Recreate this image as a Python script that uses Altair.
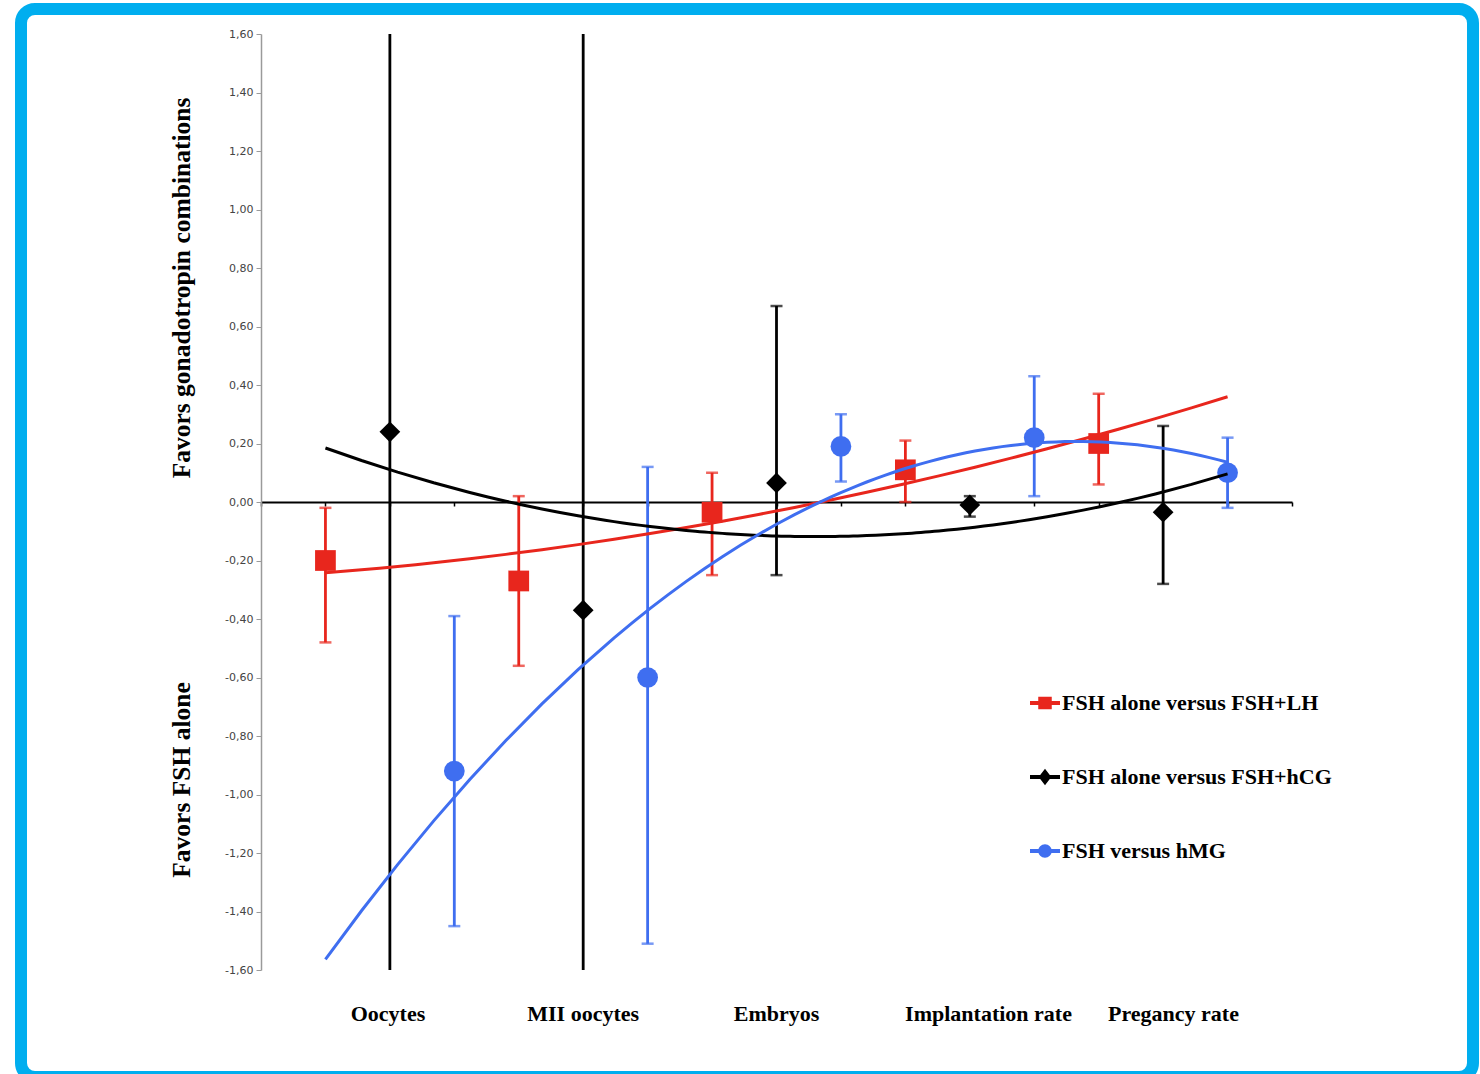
import altair as alt
import pandas as pd

series = ["FSH alone versus FSH+LH", "FSH alone versus FSH+hCG", "FSH versus hMG"]
colors = ["#E8261D", "#000000", "#3F6EF0"]

# x positions (Excel category index) of each series' points
red_x = [1, 4, 7, 10, 13]
black_x = [2, 5, 8, 11, 14]
blue_x = [3, 6, 9, 12, 15]

red_y = [-0.20, -0.27, -0.035, 0.11, 0.20]
red_lo = [-0.48, -0.56, -0.25, 0.00, 0.06]
red_hi = [-0.02, 0.02, 0.10, 0.21, 0.37]

black_y = [0.24, -0.37, 0.065, -0.01, -0.035]
black_lo = [-2.00, -2.00, -0.25, -0.05, -0.28]
black_hi = [2.00, 2.00, 0.67, 0.02, 0.26]

blue_y = [-0.92, -0.60, 0.19, 0.22, 0.10]
blue_lo = [-1.45, -1.51, 0.07, 0.02, -0.02]
blue_hi = [-0.39, 0.12, 0.30, 0.43, 0.22]

categories = ["Oocytes", "MII oocytes", "Embryos", "Implantation rate", "Pregancy rate"]
category_x = [1.97, 5.0, 8.0, 11.29, 14.16]

rows = []
for s, xs_, ys_, los, his in [
    (series[0], red_x, red_y, red_lo, red_hi),
    (series[1], black_x, black_y, black_lo, black_hi),
    (series[2], blue_x, blue_y, blue_lo, blue_hi),
]:
    for x, y, lo, hi in zip(xs_, ys_, los, his):
        rows.append({"series": s, "x": x, "y": y, "lo": lo, "hi": hi})
df = pd.DataFrame(rows)
cat_df = pd.DataFrame({"label": categories, "x": category_x})

W, H = 1031, 936
PL, PT, PR, PB = 261, 34, 188, 104

xs = alt.Scale(domain=[0, 16], nice=False, zero=False)
ys = alt.Scale(domain=[-1.6, 1.6], nice=False)
yticks = [round(-1.6 + 0.2 * i, 2) for i in range(17)]

def cscale():
    return alt.Scale(domain=series, range=colors)

base = alt.Chart(df)

x_axis = alt.Axis(orient="bottom", offset=-H / 2, values=list(range(17)), labels=False,
                  tickSize=4, tickColor="black", domainColor="black", domainWidth=2,
                  tickWidth=1.5, grid=False, title=None)
y_axis = alt.Axis(orient="left", values=yticks, grid=False, title=None,
                  labelExpr="(datum.value < 0 ? '-' : '') + replace(format(abs(datum.value), '.2f'), '.', ',')",
                  labelFont="DejaVu Sans", labelFontSize=11, labelColor="#444444",
                  domainColor="#9a9a9a", domainWidth=1.5, tickColor="#9a9a9a", tickSize=5,
                  labelPadding=3)

bars = base.mark_rule(strokeWidth=2.8, clip=True).encode(
    x=alt.X("x:Q", scale=xs, axis=x_axis),
    y=alt.Y("lo:Q", scale=ys, axis=y_axis),
    y2="hi:Q",
    color=alt.Color("series:N", scale=cscale(), legend=None),
)
caps_lo = base.mark_tick(orient="horizontal", size=12, thickness=2.5, clip=True).encode(
    x=alt.X("x:Q", scale=xs), y=alt.Y("lo:Q", scale=ys),
    color=alt.Color("series:N", scale=cscale(), legend=None),
)
caps_hi = base.mark_tick(orient="horizontal", size=12, thickness=2.5, clip=True).encode(
    x=alt.X("x:Q", scale=xs), y=alt.Y("hi:Q", scale=ys),
    color=alt.Color("series:N", scale=cscale(), legend=None),
)
points = base.mark_point(filled=True, opacity=1).encode(
    x=alt.X("x:Q", scale=xs), y=alt.Y("y:Q", scale=ys),
    color=alt.Color("series:N", scale=cscale(), legend=None),
    shape=alt.Shape("series:N", scale=alt.Scale(domain=series, range=["square", "diamond", "circle"]), legend=None),
    size=alt.Size("series:N", scale=alt.Scale(domain=series, range=[430, 430, 540]), legend=None),
)
trend = base.transform_regression(
    "x", "y", groupby=["series"], method="poly", order=2, extent=[1, 15]
).mark_line(strokeWidth=3).encode(
    x=alt.X("x:Q", scale=xs), y=alt.Y("y:Q", scale=ys),
    color=alt.Color("series:N", scale=cscale(), legend=None),
)

paths = [
    "M-1,-0.14L1,-0.14L1,0.14L-1,0.14Z M-0.45,-0.42L0.45,-0.42L0.45,0.42L-0.45,0.42Z",
    "M-1,-0.14L1,-0.14L1,0.14L-1,0.14Z M0,-0.55L0.42,0L0,0.55L-0.42,0Z",
    "M-1,-0.14L1,-0.14L1,0.14L-1,0.14Z M-0.45,0A0.45,0.45 0 1,1 0.45,0A0.45,0.45 0 1,1 -0.45,0Z",
]
leg = alt.Legend(title=None, orient="none", legendX=769, legendY=654, symbolSize=900,
                 symbolStrokeWidth=0, symbolOpacity=1, labelFont="Liberation Serif",
                 labelFontWeight="bold", labelFontSize=22, labelColor="black", labelOffset=2,
                 rowPadding=48, labelLimit=500, padding=0)
legend_layer = base.transform_filter("false").mark_point(filled=True).encode(
    x=alt.X("x:Q", scale=xs), y=alt.Y("y:Q", scale=ys),
    color=alt.Color("series:N", scale=cscale(), legend=leg),
    shape=alt.Shape("series:N", scale=alt.Scale(domain=series, range=paths), legend=leg),
)

cat_labels = alt.Chart(cat_df).mark_text(
    font="Liberation Serif", fontWeight="bold", fontSize=22, color="black", baseline="middle"
).encode(x=alt.X("x:Q", scale=xs), y=alt.value(980), text="label:N")

title_df = pd.DataFrame({"t": ["Favors gonadotropin combinations", "Favors FSH alone"], "py": [254, 746]})
ytitles = alt.Chart(title_df).mark_text(
    font="Liberation Serif", fontWeight="bold", fontSize=25.5, color="black",
    angle=270, baseline="middle", align="center"
).encode(x=alt.value(-79), y=alt.Y("py:Q", scale=None), text="t:N")

frame = alt.Chart(pd.DataFrame({"a": [0]})).mark_rect(
    fill="transparent", stroke="#00AEEF", strokeWidth=12, cornerRadius=14
).encode(x=alt.value(21 - PL), x2=alt.value(1473 - PL), y=alt.value(9 - PT), y2=alt.value(1077 - PT))

chart = alt.layer(
    bars, caps_lo, caps_hi, points, trend, legend_layer, cat_labels, ytitles, frame
).resolve_scale(color="independent", shape="independent", size="independent").properties(
    width=W, height=H,
    autosize=alt.AutoSizeParams(type="none"),
    padding={"left": PL, "top": PT, "right": PR, "bottom": PB},
    background="white",
).configure_view(stroke=None)

chart.save("out.html", embed_options={"renderer": "svg", "actions": False})
